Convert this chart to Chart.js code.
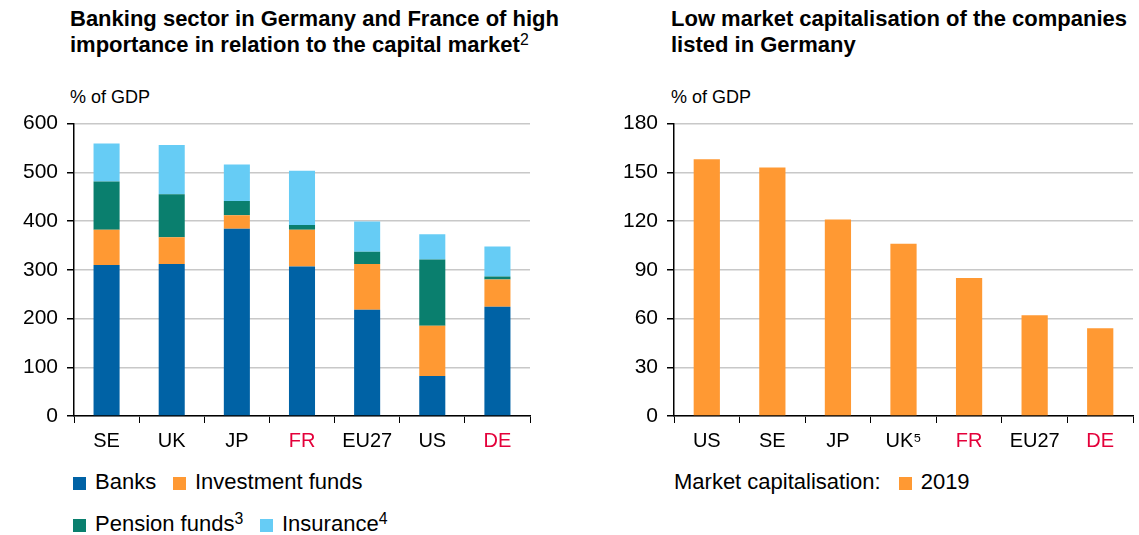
<!DOCTYPE html>
<html>
<head>
<meta charset="utf-8">
<script src="https://cdn.jsdelivr.net/npm/chart.js@4"></script>
<style>
	body { margin: 0; background: #fff; font-family: "Liberation Sans", Arial, sans-serif; color: #000; }
	#page { position: relative; width: 1139px; height: 535px; overflow: hidden; }
	.title { position: absolute; top: 6px; font-weight: bold; font-size: 22px; line-height: 26px; white-space: nowrap; }
	.title sup, .lg sup { font-size: 0.72em; vertical-align: 0.45em; line-height: 0; font-weight: normal; }
	.unit { position: absolute; top: 87px; font-size: 18px; }
	.box { position: absolute; }
	.lg { position: absolute; font-size: 22px; line-height: 24px; white-space: nowrap; }
	.sw { display: inline-block; width: 13px; height: 13px; margin-right: 9px; vertical-align: -1px; }
</style>
</head>
<body>
<div id="page">
	<div class="title" style="left:70px">Banking sector in Germany and France of high<br>importance in relation to the capital market<sup>2</sup></div>
	<div class="title" style="left:671px">Low market capitalisation of the companies<br>listed in Germany</div>
	<div class="unit" style="left:70px">% of GDP</div>
	<div class="unit" style="left:671px">% of GDP</div>

	<div class="box" style="left:0; top:102px; width:536px; height:354px;"><canvas id="left"></canvas></div>
	<div class="box" style="left:600px; top:102px; width:539px; height:354px;"><canvas id="right"></canvas></div>

	<div class="lg" style="left:73px; top:470px"><span class="sw" style="background:#0062a5"></span>Banks</div>
	<div class="lg" style="left:173px; top:470px"><span class="sw" style="background:#ff9933"></span>Investment funds</div>
	<div class="lg" style="left:73px; top:512px"><span class="sw" style="background:#0a7f6e"></span>Pension funds<sup>3</sup></div>
	<div class="lg" style="left:260px; top:512px"><span class="sw" style="background:#66ccf5"></span>Insurance<sup>4</sup></div>
	<div class="lg" style="left:674px; top:470px">Market capitalisation:<span style="display:inline-block;width:18px"></span><span class="sw" style="background:#ff9933"></span>2019</div>
</div>
<script>
// left panel: financial sector assets, % of GDP
const sectorCountries = ["SE", "UK", "JP", "FR", "EU27", "US", "DE"];
const banks = [310, 312, 384, 307, 218, 82, 224];
const investmentFunds = [72, 55, 28, 75, 94, 103, 56];
const pensionFunds = [99, 88, 29, 10, 25, 136, 6];
const insurance = [78, 101, 75, 111, 62, 52, 62];
const sectorTicks = [0, 100, 200, 300, 400, 500, 600];

// right panel: market capitalisation 2019, % of GDP
const capCountries = ["US", "SE", "JP", "UK⁵", "FR", "EU27", "DE"];
const marketCap2019 = [158, 153, 121, 106, 85, 62, 54];
const capTicks = [0, 30, 60, 90, 120, 150, 180];

const RED = "#e4003a";
const highlight = ["FR", "DE"];

function labelColor(labels) {
	return ctx => (highlight.includes(labels[ctx.index]) ? RED : "#000");
}

function makeScales(labels, ticks) {
	return {
		x: {
			stacked: true,
			grid: { drawOnChartArea: false, tickLength: 7, tickColor: "#000", offset: true },
			border: { color: "#000", width: 1.5 },
			ticks: { color: labelColor(labels), font: { size: 20, family: "Liberation Sans" }, padding: 6 },
			afterFit: s => { s.height = 40; },
		},
		y: {
			stacked: true,
			min: ticks[0],
			max: ticks[ticks.length - 1],
			afterBuildTicks: s => { s.ticks = ticks.map(v => ({ value: v })); },
			grid: { color: "#c8c8c8", lineWidth: 1.5, tickLength: 7, tickColor: "#000" },
			border: { color: "#000", width: 1.5 },
			ticks: { color: "#000", font: { size: 21, family: "Liberation Sans" }, padding: 9 },
			afterFit: s => { s.width = 74; },
		},
	};
}

const common = {
	responsive: true,
	maintainAspectRatio: false,
	animation: false,
	layout: { padding: { top: 2, right: 6 } },
	plugins: { legend: { display: false }, tooltip: { enabled: false } },
};

new Chart(document.getElementById("left"), {
	type: "bar",
	data: {
		labels: sectorCountries,
		datasets: [
			{ label: "Banks", data: banks, backgroundColor: "#0062a5" },
			{ label: "Investment funds", data: investmentFunds, backgroundColor: "#ff9933" },
			{ label: "Pension funds", data: pensionFunds, backgroundColor: "#0a7f6e" },
			{ label: "Insurance", data: insurance, backgroundColor: "#66ccf5" },
		].map(d => ({ ...d, barPercentage: 0.4, categoryPercentage: 1 })),
	},
	options: { ...common, scales: makeScales(sectorCountries, sectorTicks) },
});

new Chart(document.getElementById("right"), {
	type: "bar",
	data: {
		labels: capCountries,
		datasets: [
			{
				label: "2019",
				data: marketCap2019,
				backgroundColor: "#ff9933",
				barPercentage: 0.4,
				categoryPercentage: 1,
			},
		],
	},
	options: { ...common, scales: makeScales(capCountries, capTicks) },
});
</script>
</body>
</html>
